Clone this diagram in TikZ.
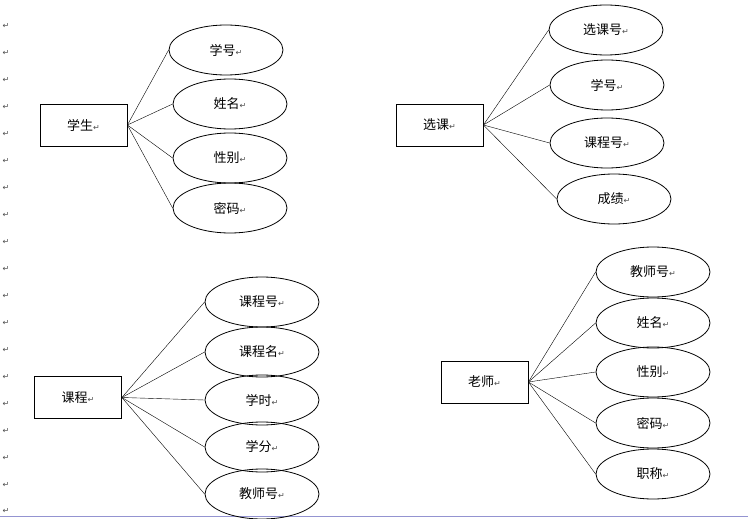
\documentclass[tikz,border=0pt]{standalone}
\usepackage{fontspec}
\usetikzlibrary{shapes.geometric}
\newfontfamily\cjk{Noto Sans CJK SC}
\newfontfamily\dv{DejaVu Sans}
\begin{document}
\begin{tikzpicture}[x=1pt,y=-1pt,
  ent/.style={draw,thick,minimum width=87pt,minimum height=42pt,font=\cjk\fontsize{13}{15}\selectfont},
  att/.style={draw,ellipse,thick,minimum width=114pt,minimum height=50pt,font=\cjk\fontsize{13}{15}\selectfont},
  ln/.style={thin},
  pm/.style={font=\dv\fontsize{8}{9}\selectfont,text=black!70,inner sep=0pt}]
\useasboundingbox (0,0) rectangle (748,519);
\newcommand{\pmk}{{\dv\fontsize{8}{9}\selectfont\textcolor{black!70}{↵}}}
\foreach \y in {26,53,80,107,134,161,188,215,242,269,296,323,350,377,404,431,458,485,511}
  \node[pm] at (6,\y) {↵};
\draw[blue!40!gray!60,thick] (0,516) -- (748,516);
% student
\node[ent] (s) at (83.5,125) {学生\pmk};
\node[att] (s1) at (226,50) {学号\pmk};
\node[att] (s2) at (230,104) {姓名\pmk};
\node[att] (s3) at (230,158) {性别\pmk};
\node[att] (s4) at (230,208) {密码\pmk};
\foreach \t in {s1,s2,s3,s4} \draw[ln] (s.east) -- (\t.west);
% xuanke
\node[ent] (x) at (439.5,125) {选课\pmk};
\node[att] (x1) at (606,30) {选课号\pmk};
\node[att] (x2) at (607,85) {学号\pmk};
\node[att] (x3) at (607,143) {课程号\pmk};
\node[att] (x4) at (614,199) {成绩\pmk};
\foreach \t in {x1,x2,x3,x4} \draw[ln] (x.east) -- (\t.west);
% course
\node[ent] (c) at (78,397.5) {课程\pmk};
\node[att] (c1) at (262,302) {课程号\pmk};
\node[att] (c2) at (262,352) {课程名\pmk};
\node[att] (c3) at (262,400) {学时\pmk};
\node[att] (c4) at (262,447) {学分\pmk};
\node[att] (c5) at (262,494) {教师号\pmk};
\foreach \t in {c1,c2,c3,c4,c5} \draw[ln] (c.east) -- (\t.west);
% teacher
\node[ent] (t) at (484.5,382) {老师\pmk};
\node[att] (t1) at (653,272) {教师号\pmk};
\node[att] (t2) at (653,323) {姓名\pmk};
\node[att] (t3) at (653,372) {性别\pmk};
\node[att] (t4) at (653,423) {密码\pmk};
\node[att] (t5) at (653,474) {职称\pmk};
\foreach \u in {t1,t2,t3,t4,t5} \draw[ln] (t.east) -- (\u.west);
\end{tikzpicture}
\end{document}
